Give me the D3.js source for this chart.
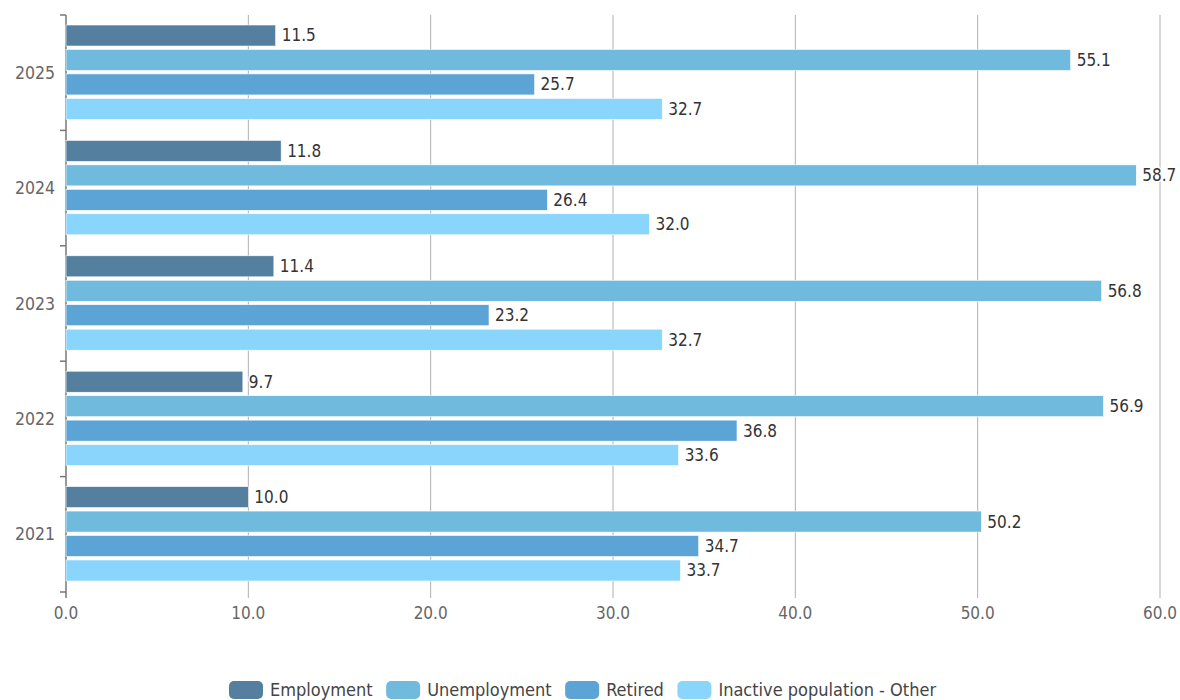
<!DOCTYPE html>
<html>
<head>
<meta charset="utf-8">
<script src="https://cdn.jsdelivr.net/npm/d3@7"></script>
<style>
  body { margin: 0; background: #fff; font-family: "DejaVu Sans Condensed", "DejaVu Sans", sans-serif; }
</style>
</head>
<body>
<div id="chart"></div>
<script>
// Dades
const years = ["2025", "2024", "2023", "2022", "2021"];
const seriesNames = ["Employment", "Unemployment", "Retired", "Inactive population - Other"];
const employment = [11.5, 11.8, 11.4, 9.7, 10.0];
const unemployment = [55.1, 58.7, 56.8, 56.9, 50.2];
const retired = [25.7, 26.4, 23.2, 36.8, 34.7];
const inactive = [32.7, 32.0, 32.7, 33.6, 33.7];
const xTicks = [0, 10, 20, 30, 40, 50, 60];

const seriesValues = [employment, unemployment, retired, inactive];
const colors = ["#547f9f", "#70badd", "#5ca4d6", "#89d5fc"];

const W = 1180, H = 700;
const margin = { top: 15, right: 20, bottom: 108, left: 66 };
const width = 1160 - margin.left;
const height = 592 - margin.top;

const svg = d3.select("#chart").append("svg")
    .attr("width", W).attr("height", H);

const g = svg.append("g")
    .attr("transform", `translate(${margin.left},${margin.top})`);

const x = d3.scaleLinear().domain([0, 60]).range([0, width]);
const y = d3.scaleBand().domain(years).range([0, height]).paddingInner(0).paddingOuter(0);
const ySub = d3.scaleBand().domain(d3.range(4)).range([10, y.bandwidth() - 11]).paddingInner(0.14);

// Graella vertical
g.selectAll(".grid").data(xTicks.slice(1)).enter().append("line")
    .attr("x1", d => x(d)).attr("x2", d => x(d))
    .attr("y1", 0).attr("y2", height + 6)
    .attr("stroke", "#b0b0b0").attr("stroke-width", 1);

// Eix Y
g.append("line").attr("x1", 0).attr("x2", 0).attr("y1", 0).attr("y2", height + 6)
    .attr("stroke", "#777").attr("stroke-width", 1.5);
const bounds = years.map(d => y(d)).concat([height]);
g.selectAll(".ytick").data(bounds).enter().append("line")
    .attr("x1", -6).attr("x2", 0)
    .attr("y1", d => d).attr("y2", d => d)
    .attr("stroke", "#777").attr("stroke-width", 1.5);

g.selectAll(".ylab").data(years).enter().append("text")
    .attr("x", -11).attr("y", d => y(d) + y.bandwidth() / 2)
    .attr("text-anchor", "end").attr("dy", "0.35em")
    .style("font-size", "17.5px").style("fill", "#666")
    .text(d => d);

// Etiquetes eix X
g.selectAll(".xlab").data(xTicks).enter().append("text")
    .attr("x", d => x(d)).attr("y", height + 21)
    .attr("text-anchor", "middle").attr("dy", "0.35em")
    .style("font-size", "17px").style("fill", "#666")
    .text(d => d3.format(".1f")(d));

// Barres
years.forEach((yr, i) => {
    seriesValues.forEach((vals, s) => {
        const v = vals[i];
        const by = y(yr) + ySub(s);
        g.append("rect")
            .attr("x", 0).attr("y", by)
            .attr("width", x(v)).attr("height", ySub.bandwidth())
            .attr("fill", colors[s])
            .attr("stroke", "#fff").attr("stroke-width", 0.6);
        g.append("text")
            .attr("x", x(v) + 6).attr("y", by + ySub.bandwidth() / 2)
            .attr("dy", "0.35em")
            .style("font-size", "17px").style("fill", "#333")
            .style("paint-order", "stroke").style("stroke", "#fff").style("stroke-width", "3px")
            .style("stroke-linejoin", "round")
            .text(d3.format(".1f")(v));
    });
});

// Llegenda (disposició en línia)
const legend = svg.append("g").attr("transform", "translate(0,681)");
let lx = 229;
seriesNames.forEach((name, s) => {
    legend.append("rect")
        .attr("x", lx).attr("y", 0)
        .attr("width", 34).attr("height", 18)
        .attr("rx", 5).attr("ry", 5)
        .attr("fill", colors[s]);
    const t = legend.append("text")
        .attr("x", lx + 41).attr("y", 9)
        .attr("dy", "0.35em")
        .style("font-size", "18px").style("fill", "#444")
        .text(name);
    lx += 41 + t.node().getComputedTextLength() + 13.5;
});
</script>
</body>
</html>
